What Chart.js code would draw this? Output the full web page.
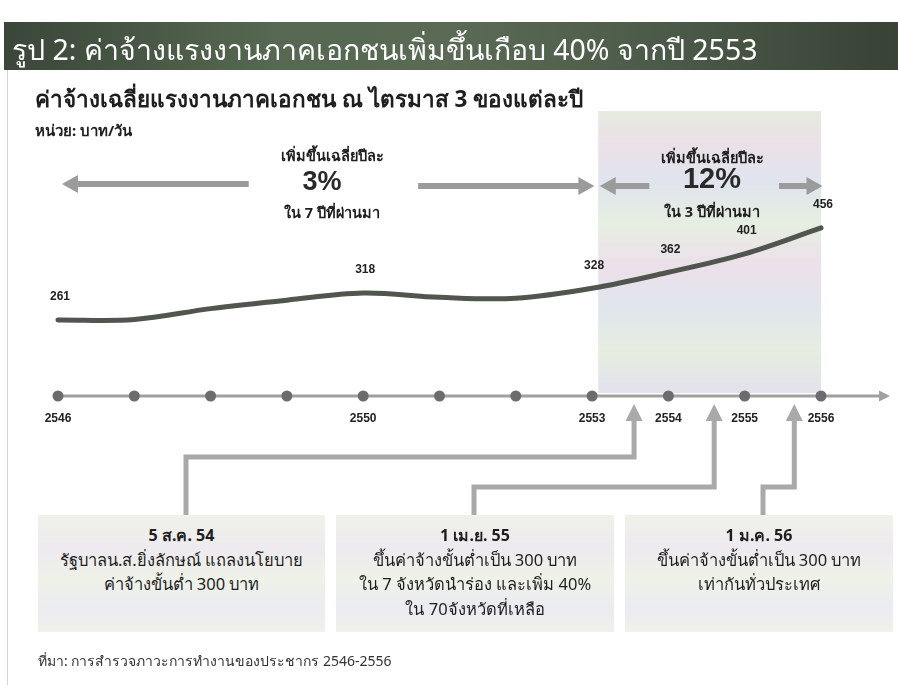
<!DOCTYPE html>
<html>
<head>
<meta charset="utf-8">
<script src="https://cdn.jsdelivr.net/npm/chart.js@4.4.1/dist/chart.umd.min.js"></script>
<style>
  body { margin: 0; width: 898px; height: 685px; position: relative; background: #fff; overflow: hidden;
         font-family: "Noto Sans", "DejaVu Sans", sans-serif; color: #1e1e1e; }
  #chartBox { position: absolute; left: 0; top: 0; width: 898px; height: 685px; }
  .t { position: absolute; white-space: nowrap; }
  .c { transform: translateX(-50%); text-align: center; }
  #frame { position: absolute; left: 7px; top: 70px; width: 1px; height: 615px; background: #d4d4d4; }
  #bar { position: absolute; left: 4px; top: 22px; width: 894px; height: 48px;
         background: linear-gradient(90deg, #3a4639 0%, #566851 30%, #5a6a55 50%, #4b5a48 75%, #384235 100%); }
  #bar span { position: absolute; left: 8px; top: 5px; color: #fff; font-size: 28.5px; }
  .box { position: absolute; top: 515px; height: 117px;
         background: linear-gradient(180deg, #eff1e9 0%, #eeeaef 30%, #eef2e8 55%, #ebebf1 80%, #f0f1ea 100%);
         text-align: center; font-size: 16.5px; line-height: 24.5px; padding-top: 8px; box-sizing: border-box; }
  .box b { font-size: 16px; }
</style>
</head>
<body>
<div id="chartBox"><canvas id="chart"></canvas></div>
<div id="frame"></div>
<div id="bar"><span>รูป 2: ค่าจ้างแรงงานภาคเอกชนเพิ่มขึ้นเกือบ 40% จากปี 2553</span></div>
<div class="t" style="left:35px;top:81px;font-size:22.5px;font-weight:bold;">ค่าจ้างเฉลี่ยแรงงานภาคเอกชน ณ ไตรมาส 3 ของแต่ละปี</div>
<div class="t" style="left:35px;top:119px;font-size:15px;font-weight:bold;">หน่วย: บาท/วัน</div>

<div class="t c" style="left:332px;top:144px;font-size:14.5px;font-weight:bold;">เพิ่มขึ้นเฉลี่ยปีละ</div>
<div class="t c" style="left:322px;top:166px;font-size:27px;font-weight:bold;font-family:'Liberation Sans',Arial,sans-serif;color:#2a2a2a;">3%</div>
<div class="t c" style="left:332px;top:201px;font-size:14.5px;font-weight:bold;">ใน 7 ปีที่ผ่านมา</div>

<div class="t c" style="left:712px;top:146px;font-size:14.5px;font-weight:bold;">เพิ่มขึ้นเฉลี่ยปีละ</div>
<div class="t c" style="left:712px;top:162px;font-size:29px;font-weight:bold;font-family:'Liberation Sans',Arial,sans-serif;color:#2a2a2a;">12%</div>
<div class="t c" style="left:712px;top:200px;font-size:14.5px;font-weight:bold;">ใน 3 ปีที่ผ่านมา</div>

<div class="box" style="left:38px;width:287px;"><b>5 ส.ค. 54</b><br>รัฐบาลน.ส.ยิ่งลักษณ์ แถลงนโยบาย<br>ค่าจ้างขั้นต่ำ 300 บาท</div>
<div class="box" style="left:336px;width:278px;"><b>1 เม.ย. 55</b><br>ขึ้นค่าจ้างขั้นต่ำเป็น 300 บาท<br>ใน 7 จังหวัดนำร่อง และเพิ่ม 40%<br>ใน 70จังหวัดที่เหลือ</div>
<div class="box" style="left:625px;width:268px;"><b>1 ม.ค. 56</b><br>ขึ้นค่าจ้างขั้นต่ำเป็น 300 บาท<br>เท่ากันทั่วประเทศ</div>

<div class="t" style="left:38px;top:650px;font-size:14px;color:#333;">ที่มา: การสำรวจภาวะการทำงานของประชากร 2546-2556</div>

<script>
// Thai years (B.E.), Q3 average private-sector daily wage
const years = [2546, 2547, 2548, 2549, 2550, 2551, 2552, 2553, 2554, 2555, 2556];
const wages = [261, 262, 285, 303, 318, 309, 307, 328, 362, 401, 456];
// years that get a tick label and a value label
const labelledYears = [2546, 2550, 2553, 2554, 2555, 2556];
// policy events placed on the timeline (fractional year)
const eventYears = [2553.55, 2554.6, 2555.65];
// the "fast growth" period that is shaded
const shadeFrom = 2553.08;
const shadeTo = 2556;

const ARROW = '#9b9b9b';

function arrowHead(ctx, x, y, dir, w, h) {
    // dir: 'left' | 'right' | 'up'
    ctx.beginPath();
    if (dir === 'left') { ctx.moveTo(x, y); ctx.lineTo(x + w, y - h / 2); ctx.lineTo(x + w, y + h / 2); }
    if (dir === 'right') { ctx.moveTo(x, y); ctx.lineTo(x - w, y - h / 2); ctx.lineTo(x - w, y + h / 2); }
    if (dir === 'up') { ctx.moveTo(x, y); ctx.lineTo(x - h / 2, y + w); ctx.lineTo(x + h / 2, y + w); }
    ctx.closePath();
    ctx.fill();
}

function hArrow(ctx, x1, x2, y, dir) {
    ctx.save();
    ctx.strokeStyle = ARROW;
    ctx.fillStyle = ARROW;
    ctx.lineWidth = 6;
    ctx.beginPath();
    if (dir === 'left') { ctx.moveTo(x1 + 12, y); ctx.lineTo(x2, y); }
    else { ctx.moveTo(x1, y); ctx.lineTo(x2 - 12, y); }
    ctx.stroke();
    arrowHead(ctx, dir === 'left' ? x1 : x2, y, dir, 16, 18);
    ctx.restore();
}

const decor = {
    id: 'decor',
    beforeDatasetsDraw(chart) {
        const ctx = chart.ctx;
        const x = chart.scales.x;
        const axisY = chart.chartArea.bottom;

        // shaded period
        const sx1 = x.getPixelForValue(shadeFrom);
        const sx2 = x.getPixelForValue(shadeTo);
        const g = ctx.createLinearGradient(0, 111, 0, axisY - 3);
        g.addColorStop(0, '#e5ebe0');
        g.addColorStop(0.12, '#ebe0e8');
        g.addColorStop(0.25, '#e0e4ee');
        g.addColorStop(0.4, '#e6eee1');
        g.addColorStop(0.55, '#ece0ea');
        g.addColorStop(0.7, '#e0e6ed');
        g.addColorStop(0.85, '#e6ede0');
        g.addColorStop(1, '#e2e2ed');
        ctx.fillStyle = g;
        ctx.fillRect(sx1, 111, sx2 - sx1, axisY - 3 - 111);

        // growth arrows
        hArrow(ctx, x.getPixelForValue(2546) + 4, x.getPixelForValue(2548.5), 184, 'left');
        hArrow(ctx, x.getPixelForValue(2550.72), x.getPixelForValue(2553.03), 186, 'right');
        hArrow(ctx, x.getPixelForValue(2553.1), x.getPixelForValue(2553.75), 186, 'left');
        hArrow(ctx, x.getPixelForValue(2555.45), x.getPixelForValue(2556.02), 186, 'right');

        // timeline
        ctx.save();
        ctx.strokeStyle = '#a0a0a0';
        ctx.fillStyle = '#a0a0a0';
        ctx.lineWidth = 3;
        ctx.beginPath();
        ctx.moveTo(x.getPixelForValue(2546) - 3, axisY);
        ctx.lineTo(880, axisY);
        ctx.stroke();
        arrowHead(ctx, 890, axisY, 'right', 11, 11);
        ctx.fillStyle = '#6c6c6c';
        years.forEach(yr => {
            ctx.beginPath();
            ctx.arc(x.getPixelForValue(yr), axisY, 5.5, 0, Math.PI * 2);
            ctx.fill();
        });

        // event connectors from boxes up to the timeline
        const starts = [186, 474, 763];
        const elbows = [457, 487, 487];
        ctx.strokeStyle = '#a9a9a9';
        ctx.fillStyle = '#a9a9a9';
        ctx.lineWidth = 5;
        eventYears.forEach((ev, i) => {
            const ex = x.getPixelForValue(ev);
            ctx.beginPath();
            ctx.moveTo(starts[i], 515);
            ctx.lineTo(starts[i], elbows[i]);
            ctx.lineTo(ex, elbows[i]);
            ctx.lineTo(ex, 420);
            ctx.stroke();
            arrowHead(ctx, ex, 404, 'up', 17, 17);
        });
        ctx.restore();
    },
    afterDatasetsDraw(chart) {
        const ctx = chart.ctx;
        const meta = chart.getDatasetMeta(0);
        ctx.save();
        ctx.font = 'bold 12px "Liberation Sans", Arial, sans-serif';
        ctx.fillStyle = '#222';
        ctx.textAlign = 'center';
        ctx.textBaseline = 'middle';
        years.forEach((yr, i) => {
            if (!labelledYears.includes(yr)) return;
            const p = meta.data[i];
            ctx.fillText(String(wages[i]), p.x + 2, p.y - 23);
        });
        ctx.restore();
    }
};

new Chart(document.getElementById('chart'), {
    type: 'line',
    data: {
        datasets: [{
            data: years.map((yr, i) => ({ x: yr, y: wages[i] })),
            borderColor: '#50564e',
            borderWidth: 5,
            borderCapStyle: 'round',
            tension: 0.35,
            pointRadius: 0,
            clip: false
        }]
    },
    options: {
        responsive: true,
        maintainAspectRatio: false,
        animation: false,
        events: [],
        layout: { padding: { left: 58, right: 77, top: 226, bottom: 259 } },
        plugins: { legend: { display: false }, tooltip: { enabled: false } },
        scales: {
            x: {
                type: 'linear',
                min: 2546,
                max: 2556,
                grid: { display: false },
                border: { display: false },
                afterFit: s => { s.height = 30; },
                ticks: {
                    stepSize: 1,
                    padding: 7,
                    color: '#222',
                    font: { family: '"Liberation Sans", Arial, sans-serif', size: 12, weight: 'bold' },
                    callback: v => labelledYears.includes(v) ? String(v) : ''
                }
            },
            y: { display: false, min: 100, max: 460 }
        }
    },
    plugins: [decor]
});
</script>
</body>
</html>
